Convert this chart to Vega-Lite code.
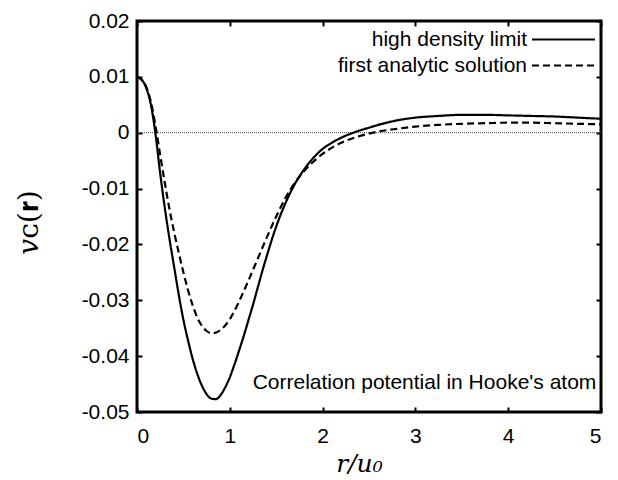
{
  "$schema": "https://vega.github.io/schema/vega-lite/v6.json",
  "width": 464,
  "height": 391,
  "autosize": "none",
  "padding": {"left": 137, "top": 21, "right": 17, "bottom": 68},
  "background": "white",
  "config": {
    "view": {"stroke": "black", "strokeWidth": 3},
    "font": "Liberation Sans",
    "axis": {
      "domain": false,
      "grid": false,
      "tickColor": "black",
      "tickWidth": 2,
      "tickSize": -5,
      "labelFont": "Liberation Sans",
      "labelFontSize": 21,
      "labelColor": "black",
      "titleColor": "black"
    }
  },
  "resolve": {"axis": {"x": "independent", "y": "independent"}},
  "datasets": {
    "curves": [
      {"r": 0, "v": 0.0100, "series": "high density limit"},
      {"r": 0.05, "v": 0.0095, "series": "high density limit"},
      {"r": 0.1, "v": 0.0080, "series": "high density limit"},
      {"r": 0.15, "v": 0.0050, "series": "high density limit"},
      {"r": 0.2, "v": -0.0003, "series": "high density limit"},
      {"r": 0.25, "v": -0.0073, "series": "high density limit"},
      {"r": 0.3, "v": -0.0135, "series": "high density limit"},
      {"r": 0.35, "v": -0.0190, "series": "high density limit"},
      {"r": 0.4, "v": -0.0240, "series": "high density limit"},
      {"r": 0.45, "v": -0.0290, "series": "high density limit"},
      {"r": 0.5, "v": -0.0335, "series": "high density limit"},
      {"r": 0.55, "v": -0.0372, "series": "high density limit"},
      {"r": 0.6, "v": -0.0405, "series": "high density limit"},
      {"r": 0.65, "v": -0.0432, "series": "high density limit"},
      {"r": 0.7, "v": -0.0453, "series": "high density limit"},
      {"r": 0.75, "v": -0.0468, "series": "high density limit"},
      {"r": 0.8, "v": -0.0476, "series": "high density limit"},
      {"r": 0.85, "v": -0.0477, "series": "high density limit"},
      {"r": 0.9, "v": -0.0470, "series": "high density limit"},
      {"r": 0.95, "v": -0.0456, "series": "high density limit"},
      {"r": 1.0, "v": -0.0438, "series": "high density limit"},
      {"r": 1.05, "v": -0.0415, "series": "high density limit"},
      {"r": 1.1, "v": -0.0390, "series": "high density limit"},
      {"r": 1.15, "v": -0.0364, "series": "high density limit"},
      {"r": 1.2, "v": -0.0336, "series": "high density limit"},
      {"r": 1.25, "v": -0.0308, "series": "high density limit"},
      {"r": 1.3, "v": -0.0278, "series": "high density limit"},
      {"r": 1.35, "v": -0.0248, "series": "high density limit"},
      {"r": 1.4, "v": -0.0220, "series": "high density limit"},
      {"r": 1.45, "v": -0.0193, "series": "high density limit"},
      {"r": 1.5, "v": -0.0168, "series": "high density limit"},
      {"r": 1.6, "v": -0.0126, "series": "high density limit"},
      {"r": 1.7, "v": -0.0092, "series": "high density limit"},
      {"r": 1.8, "v": -0.0066, "series": "high density limit"},
      {"r": 1.9, "v": -0.0045, "series": "high density limit"},
      {"r": 2.0, "v": -0.0029, "series": "high density limit"},
      {"r": 2.1, "v": -0.0018, "series": "high density limit"},
      {"r": 2.2, "v": -0.0009, "series": "high density limit"},
      {"r": 2.3, "v": -0.0002, "series": "high density limit"},
      {"r": 2.4, "v": 0.0004, "series": "high density limit"},
      {"r": 2.5, "v": 0.0009, "series": "high density limit"},
      {"r": 2.6, "v": 0.0014, "series": "high density limit"},
      {"r": 2.8, "v": 0.0022, "series": "high density limit"},
      {"r": 3.0, "v": 0.0027, "series": "high density limit"},
      {"r": 3.25, "v": 0.0030, "series": "high density limit"},
      {"r": 3.5, "v": 0.0032, "series": "high density limit"},
      {"r": 3.75, "v": 0.0032, "series": "high density limit"},
      {"r": 4.0, "v": 0.0031, "series": "high density limit"},
      {"r": 4.25, "v": 0.0030, "series": "high density limit"},
      {"r": 4.5, "v": 0.0029, "series": "high density limit"},
      {"r": 4.75, "v": 0.0027, "series": "high density limit"},
      {"r": 5.0, "v": 0.0025, "series": "high density limit"},
      {"r": 0, "v": 0.0100, "series": "first analytic solution"},
      {"r": 0.05, "v": 0.0095, "series": "first analytic solution"},
      {"r": 0.1, "v": 0.0082, "series": "first analytic solution"},
      {"r": 0.15, "v": 0.0055, "series": "first analytic solution"},
      {"r": 0.2, "v": 0.0012, "series": "first analytic solution"},
      {"r": 0.25, "v": -0.0040, "series": "first analytic solution"},
      {"r": 0.3, "v": -0.0090, "series": "first analytic solution"},
      {"r": 0.35, "v": -0.0137, "series": "first analytic solution"},
      {"r": 0.4, "v": -0.0178, "series": "first analytic solution"},
      {"r": 0.45, "v": -0.0215, "series": "first analytic solution"},
      {"r": 0.5, "v": -0.0250, "series": "first analytic solution"},
      {"r": 0.55, "v": -0.0282, "series": "first analytic solution"},
      {"r": 0.6, "v": -0.0309, "series": "first analytic solution"},
      {"r": 0.65, "v": -0.0331, "series": "first analytic solution"},
      {"r": 0.7, "v": -0.0346, "series": "first analytic solution"},
      {"r": 0.75, "v": -0.0355, "series": "first analytic solution"},
      {"r": 0.8, "v": -0.0359, "series": "first analytic solution"},
      {"r": 0.85, "v": -0.0358, "series": "first analytic solution"},
      {"r": 0.9, "v": -0.0353, "series": "first analytic solution"},
      {"r": 0.95, "v": -0.0345, "series": "first analytic solution"},
      {"r": 1.0, "v": -0.0334, "series": "first analytic solution"},
      {"r": 1.05, "v": -0.0319, "series": "first analytic solution"},
      {"r": 1.1, "v": -0.0302, "series": "first analytic solution"},
      {"r": 1.15, "v": -0.0284, "series": "first analytic solution"},
      {"r": 1.2, "v": -0.0265, "series": "first analytic solution"},
      {"r": 1.3, "v": -0.0226, "series": "first analytic solution"},
      {"r": 1.4, "v": -0.0187, "series": "first analytic solution"},
      {"r": 1.5, "v": -0.0150, "series": "first analytic solution"},
      {"r": 1.6, "v": -0.0117, "series": "first analytic solution"},
      {"r": 1.7, "v": -0.0090, "series": "first analytic solution"},
      {"r": 1.8, "v": -0.0069, "series": "first analytic solution"},
      {"r": 1.9, "v": -0.0052, "series": "first analytic solution"},
      {"r": 2.0, "v": -0.0038, "series": "first analytic solution"},
      {"r": 2.2, "v": -0.0018, "series": "first analytic solution"},
      {"r": 2.4, "v": -0.0006, "series": "first analytic solution"},
      {"r": 2.6, "v": 0.0002, "series": "first analytic solution"},
      {"r": 2.8, "v": 0.0007, "series": "first analytic solution"},
      {"r": 3.0, "v": 0.0011, "series": "first analytic solution"},
      {"r": 3.25, "v": 0.0014, "series": "first analytic solution"},
      {"r": 3.5, "v": 0.0016, "series": "first analytic solution"},
      {"r": 3.75, "v": 0.0017, "series": "first analytic solution"},
      {"r": 4.0, "v": 0.0018, "series": "first analytic solution"},
      {"r": 4.25, "v": 0.0018, "series": "first analytic solution"},
      {"r": 4.5, "v": 0.0017, "series": "first analytic solution"},
      {"r": 4.75, "v": 0.0016, "series": "first analytic solution"},
      {"r": 5.0, "v": 0.0015, "series": "first analytic solution"}
    ]
  },
  "layer": [
    {
      "data": {"values": [{}]},
      "mark": {"type": "rule", "stroke": "#444", "strokeWidth": 1, "strokeDash": [1, 1]},
      "encoding": {
        "y": {"datum": 0, "type": "quantitative", "scale": {"domain": [-0.05, 0.02], "nice": false, "zero": false},
          "axis": {"orient": "right", "labels": false, "title": null, "values": [-0.05, -0.04, -0.03, -0.02, -0.01, 0, 0.01, 0.02]}}
      }
    },
    {
      "data": {"name": "curves"},
      "mark": {"type": "line", "color": "black", "strokeWidth": 2.2, "interpolate": "monotone"},
      "encoding": {
        "x": {"field": "r", "type": "quantitative", "scale": {"domain": [0, 5], "nice": false, "zero": false},
          "axis": {"orient": "bottom", "values": [0, 1, 2, 3, 4, 5], "title": "r/u₀", "titleFont": "DejaVu Serif", "titleFontStyle": "italic", "titleFontWeight": "normal", "titleFontSize": 25, "titleX": 222, "titleY": 51, "titleBaseline": "middle", "labelPadding": 18}},
        "y": {"field": "v", "type": "quantitative", "scale": {"domain": [-0.05, 0.02], "nice": false, "zero": false},
          "axis": {"orient": "left", "values": [-0.05, -0.04, -0.03, -0.02, -0.01, 0, 0.01, 0.02], "labelPadding": 13,
            "labelExpr": "datum.value == 0 ? '0' : (datum.value < 0 ? '-' + format(-datum.value, '.2f') : format(datum.value, '.2f'))",
            "title": "𝑣ᴄ(𝐫)", "titleFont": "DejaVu Serif", "titleFontWeight": "normal", "titleFontSize": 28, "titleX": -108, "titleY": 201, "titleBaseline": "middle", "titleAngle": -90}},
        "strokeDash": {"field": "series", "type": "nominal",
          "scale": {"domain": ["high density limit", "first analytic solution"], "range": [[1, 0], [7, 4]]},
          "legend": {"orient": "none", "legendX": 416, "legendY": 8, "title": null, "padding": 0,
            "symbolType": "M-8,0H8", "symbolSize": 62, "symbolStrokeWidth": 2, "symbolStrokeColor": "black",
            "labelAlign": "right", "labelOffset": -47, "labelFontSize": 21, "labelLimit": 400, "labelFont": "Liberation Sans", "labelColor": "black",
            "rowPadding": 4}}
      }
    },
    {
      "data": {"values": [{"note": "Correlation potential in Hooke's atom"}]},
      "mark": {"type": "text", "align": "right", "baseline": "middle", "fontSize": 21, "font": "Liberation Sans", "color": "black"},
      "encoding": {
        "text": {"field": "note"},
        "x": {"datum": 4.95, "type": "quantitative", "axis": {"orient": "top", "labels": false, "title": null, "values": [0, 1, 2, 3, 4, 5]}},
        "y": {"datum": -0.0448, "type": "quantitative", "axis": null}
      }
    }
  ]
}
